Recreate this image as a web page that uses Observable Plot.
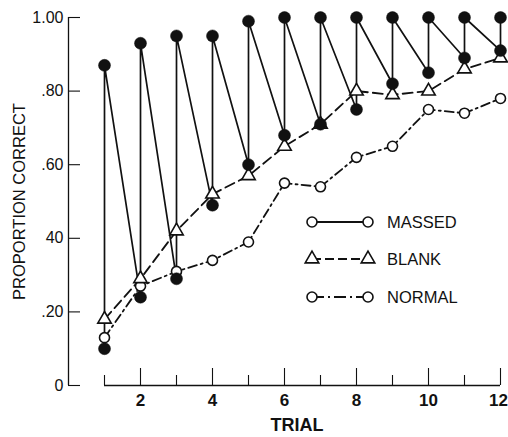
<!DOCTYPE html>
<html>
<head>
<meta charset="utf-8">
<script src="https://cdn.jsdelivr.net/npm/d3@7"></script>
<script src="https://cdn.jsdelivr.net/npm/@observablehq/plot@0.6"></script>
<style>
  html, body { margin: 0; padding: 0; background: #fff; }
  #wrap { position: relative; width: 508px; height: 437px; font-family: "Liberation Sans", Arial, Helvetica, sans-serif; }
  #wrap svg { display: block; }
  #legend { position: absolute; left: 0; top: 0; pointer-events: none; }
</style>
</head>
<body>
<div id="wrap"></div>
<script>
// ---- data ----
const trials = [1, 2, 3, 4, 5, 6, 7, 8, 9, 10, 11, 12];
const massedHigh = [0.87, 0.93, 0.95, 0.95, 0.99, 1.00, 1.00, 1.00, 1.00, 1.00, 1.00, 1.00];
const massedLow  = [0.10, 0.24, 0.29, 0.49, 0.60, 0.68, 0.71, 0.75, 0.82, 0.85, 0.89, 0.91];
const blank      = [0.18, 0.29, 0.42, 0.52, 0.57, 0.65, 0.71, 0.80, 0.79, 0.80, 0.86, 0.89];
const normal     = [0.13, 0.27, 0.31, 0.34, 0.39, 0.55, 0.54, 0.62, 0.65, 0.75, 0.74, 0.78];
const yTicks = [0, 0.2, 0.4, 0.6, 0.8, 1.0];
const yTickLabels = ["0", ".20", "40", ".60", ".80", "1.00"];
const xLabelTicks = [2, 4, 6, 8, 10, 12];
const seriesNames = ["MASSED", "BLANK", "NORMAL"];

// ---- derived tables ----
const massedPath = trials.flatMap((t, i) => [
  {trial: t, p: massedLow[i]},
  {trial: t, p: massedHigh[i]}
]);
const blankData = trials.map((t, i) => ({trial: t, p: blank[i]}));
const normalData = trials.map((t, i) => ({trial: t, p: normal[i]}));
const evenTrials = trials.filter(t => t % 2 === 0);
const oddTrials = trials.filter(t => t % 2 === 1);
const lastTrial = trials[trials.length - 1];
const innerLabels = xLabelTicks.filter(t => t !== lastTrial);
const edgeLabels = xLabelTicks.filter(t => t === lastTrial);

const W = 508, H = 437;
const mL = 68, mR = 8, mT = 17, mB = 52;
const frameW = W - mL - mR, frameH = H - mT - mB;
const ink = "#111";
const font = "'Liberation Sans', Arial, Helvetica, sans-serif";

const chart = Plot.plot({
  width: W,
  height: H,
  marginLeft: mL,
  marginRight: mR,
  marginTop: mT,
  marginBottom: mB,
  style: {fontFamily: font, color: ink, background: "white", overflow: "visible"},
  x: {domain: [0, 12], axis: null},
  y: {domain: [0, 1], axis: null},
  marks: [
    // y axis line + inward ticks + labels
    Plot.ruleX([0], {y1: 0, y2: 1, stroke: ink, strokeWidth: 1.3}),
    Plot.tickY(yTicks, {y: d => d, insetRight: frameW - 12, stroke: ink, strokeWidth: 1.1}),
    Plot.axisY({ticks: yTicks, tickFormat: d => yTickLabels[yTicks.indexOf(d)], tickSize: 0, tickPadding: 5, fontSize: 16, label: null}),
    Plot.text(["PROPORTION CORRECT"], {frameAnchor: "left", textAnchor: "middle", dx: -49, rotate: -90, fontSize: 16.5, fill: ink, text: d => d}),
    // x axis line + upward ticks + labels
    Plot.ruleY([0], {x1: trials[0], x2: lastTrial, stroke: ink, strokeWidth: 1.3}),
    Plot.tickX(evenTrials, {x: d => d, insetTop: frameH - 17, stroke: ink, strokeWidth: 1.1}),
    Plot.tickX(oddTrials, {x: d => d, insetTop: frameH - 10, stroke: ink, strokeWidth: 1.1}),
    Plot.text(innerLabels, {x: d => d, frameAnchor: "bottom", lineAnchor: "top", dy: 8, text: d => String(d), fontSize: 17, fontWeight: "bold", fill: ink}),
    Plot.text(edgeLabels, {x: d => d, frameAnchor: "bottom", lineAnchor: "top", textAnchor: "end", dx: 7.5, dy: 8, text: d => String(d), fontSize: 17, fontWeight: "bold", fill: ink}),
    Plot.text(["TRIAL"], {frameAnchor: "bottom", x: 6.35, dy: 45, fontSize: 18, fontWeight: "bold", fill: ink, text: d => d}),
    // series lines
    Plot.line(massedPath, {x: "trial", y: "p", stroke: ink, strokeWidth: 1.7}),
    Plot.line(blankData, {x: "trial", y: "p", stroke: ink, strokeWidth: 1.8, strokeDasharray: "10,5"}),
    Plot.line(normalData, {x: "trial", y: "p", stroke: ink, strokeWidth: 1.8, strokeDasharray: "9,4,2,4"}),
    // markers
    Plot.dot(normalData, {x: "trial", y: "p", r: 5, fill: "white", stroke: ink, strokeWidth: 1.6}),
    Plot.dot(blankData, {x: "trial", y: "p", symbol: "triangle", r: 5, fill: "white", stroke: ink, strokeWidth: 1.6}),
    Plot.dot(massedPath, {x: "trial", y: "p", r: 6, fill: ink, stroke: ink, strokeWidth: 0.5})
  ]
});

const wrap = document.getElementById("wrap");
wrap.appendChild(chart);

// ---- legend overlay ----
const leg = d3.select(wrap).append("svg")
  .attr("id", "legend").attr("width", W).attr("height", H);
const rows = [
  {name: seriesNames[0], y: 222, symbol: "circle", dash: null},
  {name: seriesNames[1], y: 259, symbol: "triangle", dash: "9,4"},
  {name: seriesNames[2], y: 297, symbol: "circle", dash: "12,4,2,4"}
];
const x1 = 312, x2 = 368, tx = 387;
rows.forEach(r => {
  const g = leg.append("g");
  g.append("line").attr("x1", x1).attr("x2", x2).attr("y1", r.y).attr("y2", r.y)
    .attr("stroke", ink).attr("stroke-width", 1.8)
    .attr("stroke-dasharray", r.dash);
  [x1, x2].forEach(x => {
    if (r.symbol === "circle") {
      g.append("circle").attr("cx", x).attr("cy", r.y).attr("r", 5)
        .attr("fill", "white").attr("stroke", ink).attr("stroke-width", 1.6);
    } else {
      g.append("path").attr("transform", `translate(${x},${r.y})`)
        .attr("d", d3.symbol(d3.symbolTriangle, 80)())
        .attr("fill", "white").attr("stroke", ink).attr("stroke-width", 1.6);
    }
  });
  g.append("text").attr("x", tx).attr("y", r.y).attr("dy", "0.36em")
    .attr("font-family", font).attr("font-size", 16.5).attr("fill", ink)
    .text(r.name);
});
</script>
</body>
</html>
